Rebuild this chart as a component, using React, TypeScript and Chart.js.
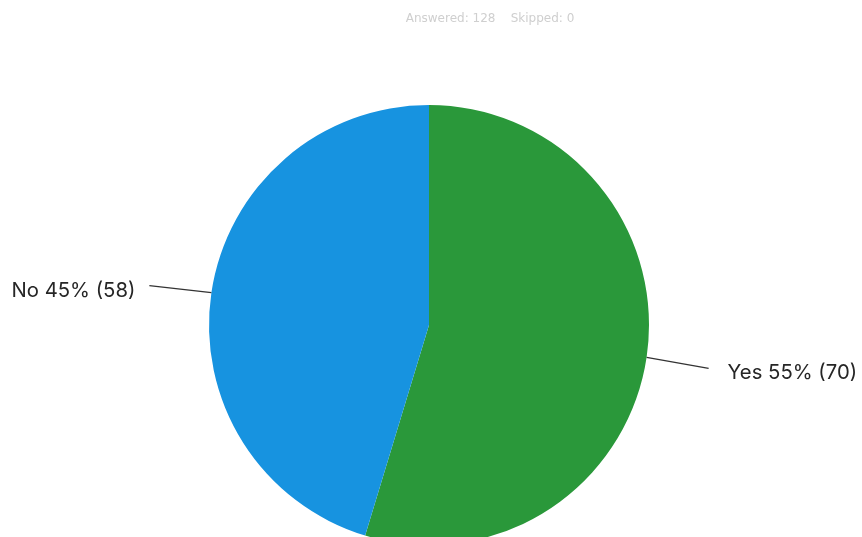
import React, { useEffect, useRef } from "react";
import { Chart, registerables } from "chart.js";

Chart.register(...registerables);

const categories = ["Yes", "No"];
const counts = [70, 58];
const percents = [55, 45];
const colors = ["#2a983a", "#1793e0"];
const subtitleText = "Answered: 128    Skipped: 0";

const labelPlugin = {
  id: "leaderLabels",
  afterDatasetsDraw(chart: any) {
    const ctx = chart.ctx;
    const meta = chart.getDatasetMeta(0);
    ctx.save();
    // faint header
    ctx.font = "12px 'DejaVu Sans', sans-serif";
    ctx.fillStyle = "#cfcfcf";
    ctx.textAlign = "center";
    ctx.textBaseline = "middle";
    ctx.fillText(subtitleText, 490, 19);

    meta.data.forEach((arc: any, i: number) => {
      const { x, y, startAngle, endAngle, outerRadius } = arc.getProps(
        ["x", "y", "startAngle", "endAngle", "outerRadius"],
        true
      );
      const mid = (startAngle + endAngle) / 2;
      const cos = Math.cos(mid);
      const sin = Math.sin(mid);
      const x0 = x + cos * outerRadius;
      const y0 = y + sin * outerRadius;
      const right = cos >= 0;
      const x1 = x0 + (right ? 62 : -62);
      const y1 = y0 + (right ? 11 : -7);
      ctx.strokeStyle = "#333";
      ctx.lineWidth = 1.3;
      ctx.beginPath();
      ctx.moveTo(x0, y0);
      ctx.lineTo(x1, y1);
      ctx.stroke();
      ctx.font = "20.3px Inter, 'Noto Sans', sans-serif";
      ctx.fillStyle = "#262626";
      ctx.textBaseline = "middle";
      ctx.textAlign = right ? "left" : "right";
      const txt = `${categories[i]} ${percents[i]}% (${counts[i]})`;
      ctx.fillText(txt, x1 + (right ? 19 : -14), y1 + 5);
    });
    ctx.restore();
  },
};

export default function App() {
  const ref = useRef<HTMLCanvasElement | null>(null);
  useEffect(() => {
    document.body.style.margin = "0";
    const chart = new Chart(ref.current as HTMLCanvasElement, {
      type: "pie",
      data: {
        labels: categories,
        datasets: [
          {
            data: counts,
            backgroundColor: colors,
            borderWidth: 0,
            radius: 220,
            clip: false,
          } as any,
        ],
      },
      options: {
        animation: false,
        responsive: false,
        rotation: 0,
        layout: { padding: { left: 0, right: 4, top: 113, bottom: 0 } },
        plugins: {
          legend: { display: false },
          tooltip: { enabled: false },
          title: { display: false },
        },
      },
      plugins: [labelPlugin],
    });
    return () => chart.destroy();
  }, []);
  return (
    <div style={{ width: 862, height: 537, background: "#fff" }}>
      <canvas ref={ref} width={862} height={537} />
    </div>
  );
}
